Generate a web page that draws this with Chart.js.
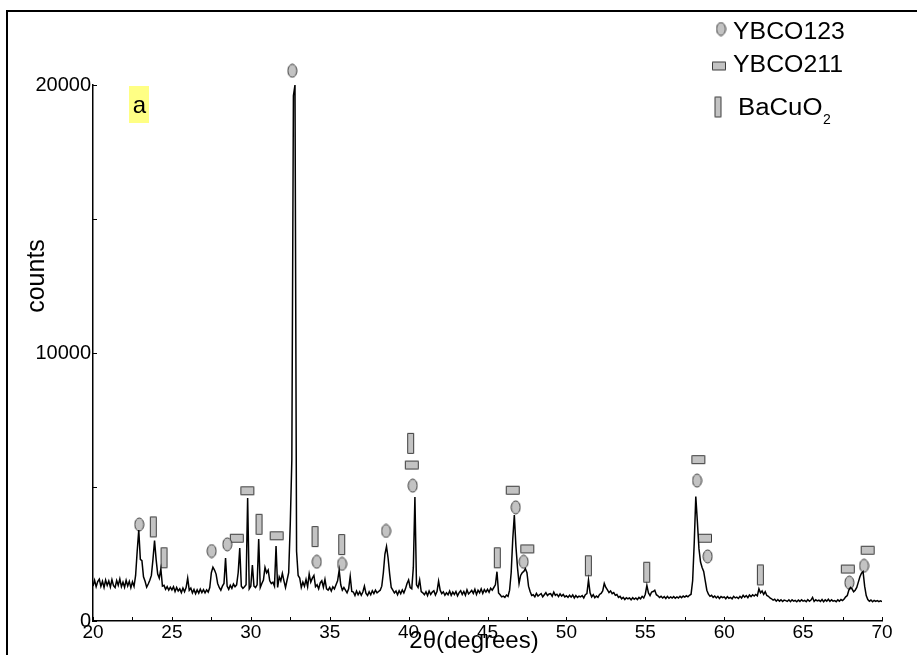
<!DOCTYPE html>
<html>
<head>
<meta charset="utf-8">
<title>XRD pattern</title>
<script src="https://cdn.jsdelivr.net/npm/chart.js@4.4.1/dist/chart.umd.min.js"></script>
<style>
  html, body { margin: 0; padding: 0; background: #fff; }
  canvas { display: block; }
</style>
</head>
<body>
<canvas id="xrd" width="917" height="655"></canvas>
<script>
// measured counts, one value per 0.1 degree of 2theta, from 20.0 to 70.0
const startAngle = 20;
const angleStep = 0.1;
const counts = [
  1300,1520,1280,1470,1560,1290,1480,1250,1530,1330, // 20
  1490,1270,1540,1320,1250,1510,1330,1570,1280,1450, // 21
  1260,1520,1310,1480,1240,1460,1290,1700,2600,3390, // 22
  2300,2250,1650,1480,1260,1380,1520,1700,2300,3000, // 23
  2300,1750,1600,1950,1300,1330,1180,1280,1150,1260, // 24
  1160,1280,1100,1250,1120,1200,1060,1230,1090,1250, // 25
  1600,1150,1230,1050,1180,1020,1160,1040,1190,1060, // 26
  1170,1050,1160,1080,1250,1800,2010,1900,1750,1400, // 27
  1250,1150,1300,1400,2350,1300,1180,1330,1220,1380, // 28
  1280,1350,1800,2720,1300,1220,1280,1350,4590,1200, // 29
  1300,2090,1300,1250,1350,3060,1250,1400,1530,2000, // 30
  1800,1900,1500,1400,1450,1300,2800,1250,1650,1500, // 31
  1780,1500,1250,1530,1800,3600,6000,19600,20000,2600, // 32
  1700,1600,1250,1450,1300,1550,1280,1750,1450,1600, // 33
  1700,1280,1350,1200,1420,1500,1260,1550,1200,1150, // 34
  1250,1120,1280,1200,1350,1500,1900,1350,1150,1250, // 35
  1150,1050,1200,1670,1100,1080,950,1120,980,1090,   // 36
  960,1080,1300,1030,950,1090,980,1130,1020,1150,    // 37
  1050,1100,1150,1300,1800,2500,2780,2350,1750,1250, // 38
  1150,1050,1120,980,1130,1020,1160,1050,1200,1400,  // 39
  1530,1250,1200,2000,4625,1350,1250,1530,1100,1050, // 40
  980,1090,950,1120,990,1080,1130,970,1100,1490,     // 41
  1150,1020,1090,960,1050,980,1120,960,1080,990,     // 42
  1100,940,1060,1130,990,1100,960,1160,1010,1070,    // 43
  1140,1030,1180,990,1150,1050,1200,1030,1170,1080,  // 44
  1180,1070,1220,1150,1250,1350,1840,1050,980,900,   // 45
  930,880,970,920,1150,1800,3050,3955,2800,2000,     // 46
  1400,1700,1800,1850,1950,1800,1300,1100,950,980,   // 47
  900,1030,930,980,1020,900,980,1060,950,1010,       // 48
  1020,920,1080,960,1000,910,1010,930,990,900,       // 49
  940,880,960,890,970,860,950,880,930,900,           // 50
  950,860,980,1020,1530,1050,900,980,870,930,        // 51
  880,990,1030,1120,1400,1250,1160,1060,1120,1020,   // 52
  1060,960,990,880,920,830,880,800,870,830,          // 53
  860,790,870,810,860,800,880,830,920,860,           // 54
  1000,1330,1050,950,1080,1100,1150,980,940,880,     // 55
  920,860,910,840,920,850,900,860,910,850,           // 56
  900,860,920,870,930,890,940,900,960,1000,          // 57
  1500,2900,4640,3700,2700,2200,2000,1850,1500,1150, // 58
  1000,920,960,880,930,860,920,840,910,870,          // 59
  900,830,910,850,880,830,920,860,890,840,           // 60
  920,860,960,890,950,870,970,910,980,930,           // 61
  990,940,1200,1050,1120,990,1090,950,920,860,       // 62
  830,780,810,740,800,740,790,730,780,760,           // 63
  730,790,720,790,740,770,720,780,730,790,           // 64
  740,770,720,800,740,780,880,730,790,750,           // 65
  780,730,800,720,790,740,810,730,790,740,           // 66
  760,720,790,740,800,760,820,900,950,1156,          // 67
  1250,1200,1090,1150,1250,1450,1650,1780,1840,1300, // 68
  950,800,740,780,720,770,730,760,720,750,           // 69
  720                                                // 70
];

// phase marker positions (2theta, counts where the symbol sits)
const ybco123Angle  = [22.93, 27.52, 28.51, 32.63, 34.18, 35.78, 38.57, 40.26, 46.79, 47.29, 58.28, 58.95, 67.93, 68.86];
const ybco123Counts = [3600, 2610, 2860, 20530, 2210, 2130, 3360, 5050, 4240, 2210, 5240, 2410, 1430, 2060];
const ybco211Angle  = [29.11, 29.78, 31.64, 40.20, 46.60, 47.52, 58.36, 58.78, 67.83, 69.09];
const ybco211Counts = [3090, 4860, 3180, 5820, 4880, 2690, 6020, 3090, 1940, 2640];
const bacuo2Angle   = [23.82, 24.50, 30.52, 34.07, 35.76, 40.13, 45.62, 51.39, 55.09, 62.29];
const bacuo2Counts  = [3510, 2360, 3610, 3150, 2850, 6630, 2360, 2060, 1820, 1720];

const xTickLabels = [20, 25, 30, 35, 40, 45, 50, 55, 60, 65, 70];
const yTickLabels = [0, 10000, 20000];

// small gray symbols used for the phase markers
function makeSymbol(w, h, round) {
  const c = document.createElement('canvas');
  c.width = w + 2;
  c.height = h + 2;
  const g = c.getContext('2d');
  g.fillStyle = '#c3c3c3';
  g.strokeStyle = '#3c3c3c';
  g.lineWidth = 1;
  g.beginPath();
  if (round) g.ellipse(c.width / 2, c.height / 2, w / 2, h / 2, 0, 0, Math.PI * 2);
  else g.rect(1.5, 1.5, w - 1, h - 1);
  g.fill();
  g.stroke();
  return c;
}
const ovalSym = makeSymbol(9, 13, true);
const flatSym = makeSymbol(14, 9, false);
const tallSym = makeSymbol(7, 21, false);

const toPoints = (xs, ys) => xs.map((v, i) => ({ x: v, y: ys[i] }));
const trace = counts.map((c, i) => ({ x: startAngle + i * angleStep, y: c }));

function markerSet(label, xs, ys, sym) {
  return {
    label: label,
    data: toPoints(xs, ys),
    showLine: false,
    pointStyle: sym,
    pointRadius: 20,
    pointHoverRadius: 20,
    clip: false
  };
}

function wideText(ctx, txt, x, y, sx) {
  ctx.save();
  ctx.translate(x, y);
  ctx.scale(sx, 1);
  ctx.fillText(txt, 0, 0);
  ctx.restore();
}

// frame, inward ticks, panel letter, legend and axis titles
const decorations = {
  id: 'decorations',
  afterDraw(chart) {
    const ctx = chart.ctx;
    const xs = chart.scales.x;
    const ys = chart.scales.y;
    ctx.save();

    ctx.strokeStyle = '#000';
    ctx.lineWidth = 2;
    ctx.beginPath();
    ctx.moveTo(7, 655);
    ctx.lineTo(7, 11);
    ctx.lineTo(917, 11);
    ctx.stroke();

    ctx.lineWidth = 1;
    ctx.beginPath();
    for (let v = 20; v <= 70; v += 2.5) {
      const px = Math.round(xs.getPixelForValue(v)) + 0.5;
      ctx.moveTo(px, ys.bottom);
      ctx.lineTo(px, ys.bottom - 4);
    }
    for (let v = 0; v <= 20000; v += 5000) {
      const py = Math.round(ys.getPixelForValue(v)) + 0.5;
      ctx.moveTo(xs.left, py);
      ctx.lineTo(xs.left + 4, py);
    }
    ctx.stroke();

    // panel letter
    ctx.fillStyle = '#ffff84';
    ctx.fillRect(129, 86, 20, 37);
    ctx.fillStyle = '#000';
    ctx.font = '24px "Liberation Sans", Arial, sans-serif';
    ctx.textAlign = 'center';
    ctx.textBaseline = 'alphabetic';
    ctx.fillText('a', 139.5, 113);

    // legend
    ctx.drawImage(ovalSym, 721 - ovalSym.width / 2, 29 - ovalSym.height / 2);
    ctx.drawImage(flatSym, 719 - flatSym.width / 2, 66 - flatSym.height / 2);
    ctx.drawImage(tallSym, 718 - tallSym.width / 2, 107 - tallSym.height / 2);
    ctx.textAlign = 'left';
    ctx.font = '23px "Liberation Sans", Arial, sans-serif';
    wideText(ctx, 'YBCO123', 733, 39, 1.08);
    wideText(ctx, 'YBCO211', 733, 72, 1.08);
    wideText(ctx, 'BaCuO', 738, 115, 1.12);
    ctx.font = '14px "Liberation Sans", Arial, sans-serif';
    ctx.fillText('2', 823, 124);

    // axis titles
    ctx.font = '24px "Liberation Sans", Arial, sans-serif';
    ctx.textAlign = 'center';
    ctx.fillText('2\u03b8(degrees)', 474, 648);
    ctx.save();
    ctx.translate(37, 276);
    ctx.rotate(-Math.PI / 2);
    ctx.font = '25px "Liberation Sans", Arial, sans-serif';
    ctx.textBaseline = 'middle';
    ctx.fillText('counts', 0, 0);
    ctx.restore();

    ctx.restore();
  }
};

new Chart(document.getElementById('xrd'), {
  type: 'line',
  data: {
    datasets: [
      {
        label: 'pattern',
        data: trace,
        borderColor: '#000',
        borderWidth: 1.5,
        pointRadius: 0,
        tension: 0,
        fill: false
      },
      markerSet('YBCO123', ybco123Angle, ybco123Counts, ovalSym),
      markerSet('YBCO211', ybco211Angle, ybco211Counts, flatSym),
      markerSet('BaCuO2', bacuo2Angle, bacuo2Counts, tallSym)
    ]
  },
  options: {
    responsive: false,
    animation: false,
    devicePixelRatio: 1,
    layout: { padding: { left: 0, top: 85, right: 35, bottom: 0 } },
    plugins: {
      legend: { display: false },
      tooltip: { enabled: false }
    },
    scales: {
      x: {
        type: 'linear',
        min: 20,
        max: 70,
        afterFit: (s) => { s.height = 34; },
        afterBuildTicks: (s) => { s.ticks = xTickLabels.map(v => ({ value: v })); },
        grid: { display: false, drawTicks: false, tickLength: 0 },
        border: { display: true, color: '#000', width: 1.5 },
        ticks: {
          autoSkip: false,
          maxRotation: 0,
          padding: 0,
          color: '#000',
          callback: (v) => String(v),
          font: { family: '"Liberation Sans", Arial, sans-serif', size: 19 }
        }
      },
      y: {
        type: 'linear',
        min: 0,
        max: 20000,
        afterFit: (s) => { s.width = 93; },
        afterBuildTicks: (s) => { s.ticks = yTickLabels.map(v => ({ value: v })); },
        grid: { display: false, drawTicks: false, tickLength: 0 },
        border: { display: true, color: '#000', width: 1.5 },
        ticks: {
          padding: 2,
          color: '#000',
          callback: (v) => String(v),
          font: { family: '"Liberation Sans", Arial, sans-serif', size: 20 }
        }
      }
    }
  },
  plugins: [decorations]
});
</script>
</body>
</html>
